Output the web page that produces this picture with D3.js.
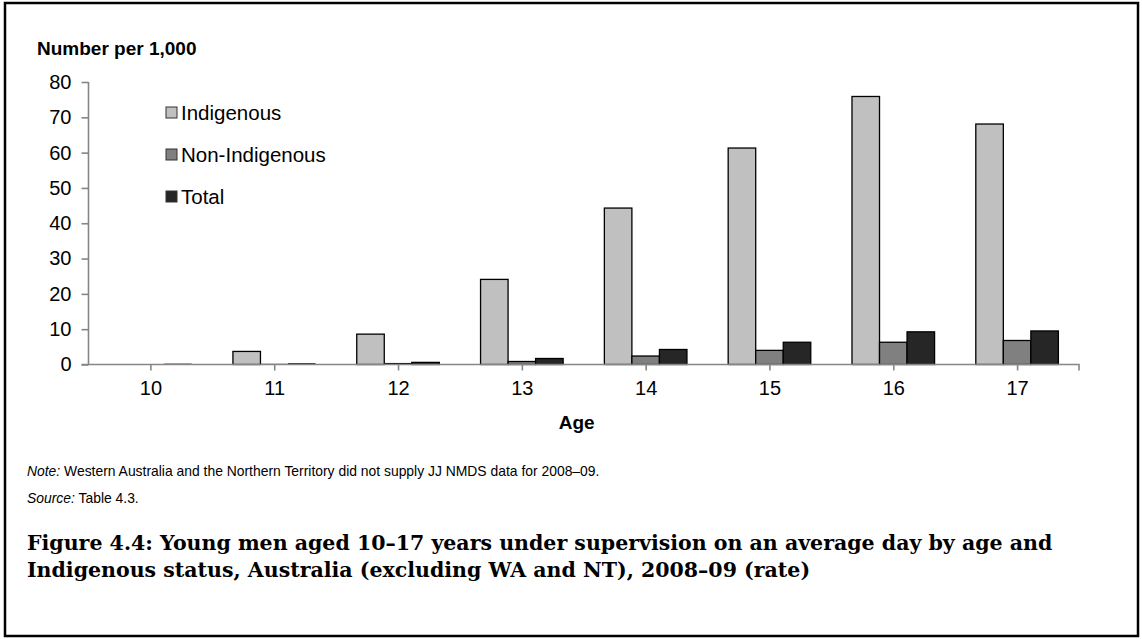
<!DOCTYPE html>
<html><head><meta charset="utf-8">
<script src="https://cdn.jsdelivr.net/npm/d3@7"></script>
<style>
body{margin:0;background:#fff;}
svg{display:block;}
text{font-family:"Liberation Sans",Arial,sans-serif;fill:#000;}
</style></head>
<body><svg id="c" width="1142" height="639"></svg>
<script>
const ages = ["10","11","12","13","14","15","16","17"];
const seriesNames = ["Indigenous","Non-Indigenous","Total"];
const indigenous = [0, 3.7, 8.6, 24.1, 44.3, 61.3, 75.9, 68.1];
const nonIndigenous = [0, 0.05, 0.3, 0.85, 2.4, 4.0, 6.3, 6.8];
const total = [0.1, 0.2, 0.6, 1.7, 4.25, 6.3, 9.25, 9.5];
const yTicks = [0,10,20,30,40,50,60,70,80];
const colors = ["#c0c0c0","#808080","#262626"];

(function(){
const series = [indigenous, nonIndigenous, total];
const data = ages.map((a,i)=>({age:a, vals: series.map((s,k)=>({k, v:s[i]}))}));

const svg = d3.select("#c");
svg.append("rect").attr("x",5).attr("y",3).attr("width",1133).attr("height",633)
  .attr("fill","none").attr("stroke","#000").attr("stroke-width",2.5);

const pLeft=88.5, pRight=1079, pTop=82, pBottom=364.5;
const y = d3.scaleLinear().domain([0,80]).range([pBottom, pTop]);
const x0 = d3.scaleBand().domain(ages).range([pLeft,pRight]).paddingInner(0.333).paddingOuter(0.1665);
const x1 = d3.scaleBand().domain([0,1,2]).range([0,x0.bandwidth()]);

svg.append("text").attr("x",37).attr("y",55).attr("font-weight","bold").attr("font-size",19)
  .text("Number per 1,000");

const yAxis = d3.axisLeft(y).tickValues(yTicks).tickSize(7).tickPadding(10);
const gy = svg.append("g").attr("transform",`translate(${pLeft},0)`).call(yAxis);
gy.selectAll("path,line").attr("stroke","#868686").attr("stroke-width",1.6);
gy.select(".domain").attr("d",`M0,${pTop}V${pBottom}`);
gy.selectAll("text").attr("font-size",20).attr("font-family","Liberation Sans, Arial, sans-serif").attr("fill","#000");

const groups = svg.append("g").selectAll("g").data(data).join("g")
  .attr("transform",d=>`translate(${x0(d.age)},0)`);
groups.selectAll("rect").data(d=>d.vals).join("rect")
  .attr("x",d=>x1(d.k)).attr("width",x1.bandwidth())
  .attr("y",d=>y(d.v)).attr("height",d=>pBottom-y(d.v))
  .attr("fill",d=>colors[d.k]).attr("stroke",d=>d.v>0.5?"#000":"none").attr("stroke-width",1.3);
groups.selectAll("line.small").data(d=>d.vals.filter(v=>v.v>0 && v.v<=0.5)).join("line")
  .attr("class","small")
  .attr("x1",d=>x1(d.k)).attr("x2",d=>x1(d.k)+x1.bandwidth())
  .attr("y1",d=>y(d.v)).attr("y2",d=>y(d.v)).attr("stroke","#000").attr("stroke-width",1);

const xCenter = d3.scalePoint().domain(ages).range([pLeft+x0.step()/2, pRight-x0.step()/2]);
const xAxis = d3.axisBottom(xCenter).tickSize(6).tickPadding(10);
const gx = svg.append("g").attr("transform",`translate(0,${pBottom})`).call(xAxis);
gx.select(".domain").attr("d",`M${pLeft-7},0H${pRight}V6`).attr("stroke","#868686").attr("stroke-width",1.6).attr("fill","none");
gx.selectAll(".tick line").attr("stroke","#868686").attr("stroke-width",1.6);
gx.selectAll("text").attr("font-size",20).attr("font-family","Liberation Sans, Arial, sans-serif").attr("fill","#000");

svg.append("text").attr("x",(pLeft+pRight)/2-7).attr("y",429).attr("text-anchor","middle")
  .attr("font-weight","bold").attr("font-size",19).text("Age");

const legY = [113,155,197];
const lg = svg.append("g").selectAll("g").data(seriesNames).join("g")
  .attr("transform",(d,i)=>`translate(166,${legY[i]})`);
lg.append("rect").attr("x",0).attr("y",-6).attr("width",11).attr("height",11)
  .attr("fill",(d,i)=>colors[i]).attr("stroke","#333").attr("stroke-width",1);
lg.append("text").attr("x",15).attr("y",7).attr("font-size",20.5).text(d=>d);

const note = svg.append("text").attr("x",27).attr("y",476).attr("font-size",13.9);
note.append("tspan").attr("font-style","italic").text("Note:");
note.append("tspan").text(" Western Australia and the Northern Territory did not supply JJ NMDS data for 2008\u201309.");
const src = svg.append("text").attr("x",27).attr("y",503).attr("font-size",13.9);
src.append("tspan").attr("font-style","italic").text("Source:");
src.append("tspan").text(" Table 4.3.");

const capLines = ["Figure 4.4: Young men aged 10\u201317 years under supervision on an average day by age and",
  "Indigenous status, Australia (excluding WA and NT), 2008\u201309 (rate)"];
const cap = svg.append("g");
const capY = [550, 577];
capLines.forEach((t,i)=>{
  cap.append("text").attr("x",27).attr("y",capY[i]).attr("font-size",20).attr("font-weight","bold")
    .style("font-family","'DejaVu Serif','Liberation Serif',serif").text(t);
});
const first = cap.select("text").node();
const w = first.getComputedTextLength();
cap.selectAll("text").attr("font-size",20*1026/w);
})();
</script></body></html>
